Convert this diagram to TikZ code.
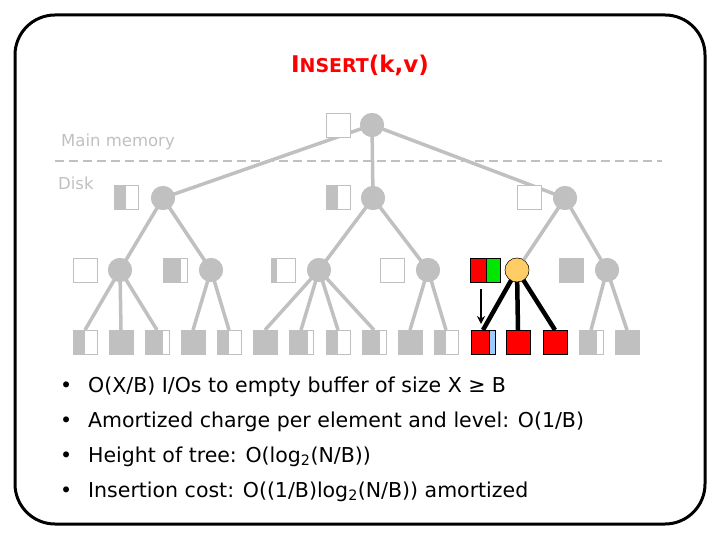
\documentclass[tikz,border=0pt]{standalone}
\usepackage{fontspec}
\setmainfont{DejaVu Sans}
\usetikzlibrary{arrows.meta}
\definecolor{gr}{RGB}{192,192,192}
\definecolor{rd}{RGB}{255,0,0}
\definecolor{gn}{RGB}{0,230,0}
\definecolor{lb}{RGB}{153,204,255}
\definecolor{org}{RGB}{255,204,102}
\begin{document}
\begin{tikzpicture}[x=1pt,y=-1pt,
  circ/.style={circle,fill=gr,minimum size=24pt,inner sep=0pt},
  edge/.style={gr,line width=3.5pt},
  bedge/.style={black,line width=4.5pt},
  txt/.style={font=\fontsize{20.5}{22}\selectfont,anchor=base west,inner sep=0pt}]
\useasboundingbox (0,0) rectangle (720,540);
\draw[line width=3pt,rounded corners=40pt] (15,15) rectangle (705,524);
\node[rd,font=\bfseries\fontsize{23}{26}\selectfont] (title) at (360,65) {I{\fontsize{19}{22}\selectfont NSERT}(k,v)};
\node[gr,font=\fontsize{16.5}{18}\selectfont,anchor=west,inner sep=0pt] (mm) at (61,142) {Main memory};
\node[gr,font=\fontsize{16.5}{18}\selectfont,anchor=west,inner sep=0pt] (dk) at (58,183) {Disk};
\coordinate (d1) at (55,161); \coordinate (d2) at (662,161);
\draw[gr,line width=2.5pt,dash pattern=on 9pt off 5pt] (d1) -- (d2);
\newcommand{\buf}[3]{%
  \fill[white] (#1-12,#2-12) rectangle (#1+12,#2+12);
  \fill[gr] (#1-12,#2-12) rectangle (#1-12+24*#3,#2+12);
  \draw[gr,line width=1pt] (#1-12,#2-12) rectangle (#1+12,#2+12);}
\node[circ] (r) at (372,125) {};
\node[circ] (a) at (163,198) {};
\node[circ] (b) at (373,198) {};
\node[circ] (c) at (565,198) {};
\node[circ] (a1) at (120,270) {};
\node[circ] (a2) at (211,270) {};
\node[circ] (b1) at (319,270) {};
\node[circ] (b2) at (428,270) {};
\node[circ,fill=org,draw=black,thin] (c1) at (517,270) {};
\node[circ] (c2) at (607,270) {};
\foreach \i/\x in {1/85,2/121,3/157,4/193,5/229,6/265,7/301,8/338,9/374,10/410,11/446,12/483,13/518,14/555,15/591,16/627}
  \coordinate (l\i) at (\x,330);
\foreach \p/\q in {r/a,r/b,r/c}
  \draw[edge] (\p.center) -- (\q.center);
\foreach \p/\q in {a/a1,a/a2,b/b1,b/b2,c/c1,c/c2}
  \draw[edge] (\p.center) -- (\q.center);
\foreach \p/\q in {a1/l1,a1/l2,a1/l3,a2/l4,a2/l5,b1/l6,b1/l7,b1/l8,b1/l9,b2/l10,b2/l11,c2/l15,c2/l16}
  \draw[edge] (\p.center) -- (\q);
\foreach \q in {l12,l13,l14}
  \draw[bedge] (c1.center) -- (\q);
\foreach \x/\y in {372/125,163/198,373/198,565/198,120/270,211/270,319/270,428/270,607/270}
  \fill[gr] (\x,\y) circle (12pt);
\fill[org,draw=black,thin] (517,270) circle (12pt);
\buf{338}{126}{0}
\buf{126}{198}{0.5}\buf{338}{198}{0.5}\buf{529}{198}{0}
\buf{85}{270}{0}\buf{175}{270}{0.75}\buf{283}{270}{0.25}\buf{392}{270}{0}\buf{571}{270}{1}
\foreach \x/\f in {85/0.5,121/1,157/0.75,193/1,229/0.5,265/1,301/0.8,338/0.5,374/0.75,410/1,446/0.5,591/0.75,627/1}
  {\buf{\x}{342}{\f}}
\fill[rd] (470,258) rectangle (486,282); \fill[gn] (486,258) rectangle (500,282);
\draw[black,thin] (470,258) rectangle (500,282); \draw[black,thin] (486,258)--(486,282);
\fill[rd] (471,330) rectangle (489,354); \fill[lb] (489,330) rectangle (495,354);
\draw[black,thin] (471,330) rectangle (495,354); \draw[black,thin] (489,330)--(489,354);
\draw[black,thin,fill=rd] (506,330) rectangle (530,354);
\draw[black,thin,fill=rd] (543,330) rectangle (567,354);
\coordinate (ar1) at (481,289); \coordinate (ar2) at (481,324);
\draw[black,line width=2.5pt,-{Stealth[length=8pt,width=8pt]}] (ar1) -- (ar2);
\foreach \y/\t [count=\k] in {392/{O(X/B) I/Os to empty buffer of size X ≥ B},
  427/{Amortized charge per element and level: O(1/B)},
  462/{Height of tree: O(log\textsubscript{2}(N/B))},
  497/{Insertion cost: O((1/B)log\textsubscript{2}(N/B)) amortized}}{
  \node[txt] (bl\k) at (60,\y) {•};
  \node[txt] (t\k) at (88,\y) {\t};}
\end{tikzpicture}
\end{document}
